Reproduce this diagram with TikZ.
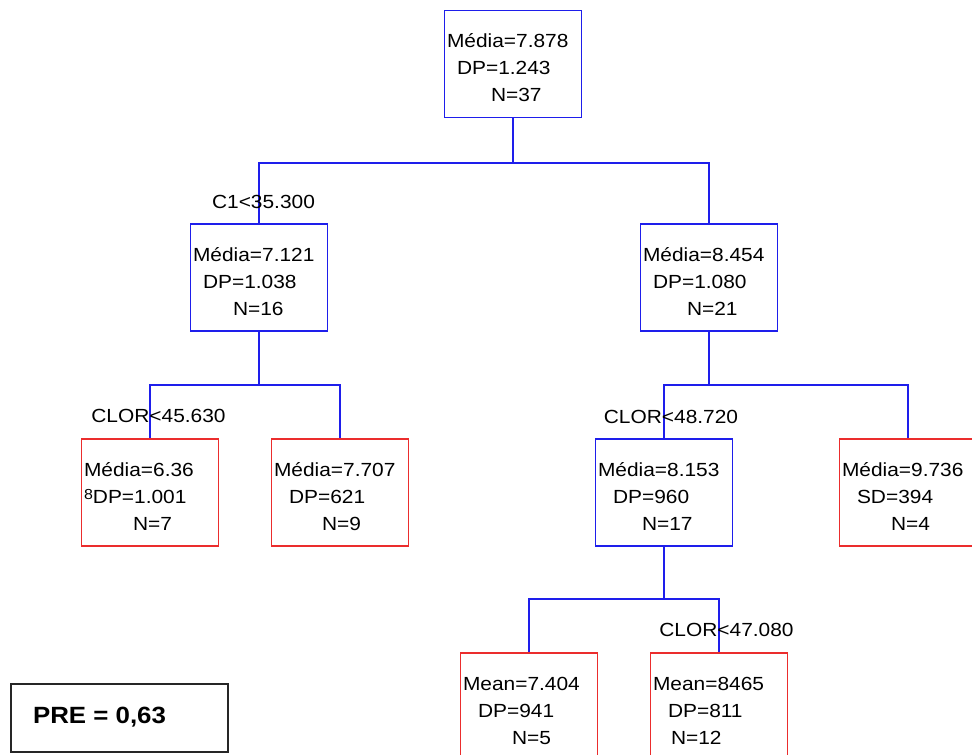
\documentclass[tikz,border=0pt]{standalone}
\usepackage{fontspec}
\setmainfont{Liberation Sans}[FakeStretch=1.1]
\usepackage{tikz}

\definecolor{treeblue}{RGB}{30,30,235}
\definecolor{leafred}{RGB}{235,45,45}

\tikzset{
  splitbox/.style={draw=treeblue, line width=1.3pt, minimum width=137pt, minimum height=107pt, inner sep=0pt},
  leafbox/.style={splitbox, draw=leafred},
  statstext/.style={anchor=west, align=left, inner sep=0pt, font=\fontsize{19}{27}\selectfont},
  cutlabel/.style={inner sep=0pt, font=\fontsize{19}{23}\selectfont},
  edge/.style={treeblue, line width=1.3pt}
}

\begin{document}
\begin{tikzpicture}[x=1pt,y=-1pt]
        \useasboundingbox (0,0) rectangle (972,755);
        \clip (0,0) rectangle (972,755);

        % Raiz
        \node[splitbox] (root) at (513,64) {};
        \node[statstext] (rootT) at ([xshift=3pt,yshift=-4pt]root.west) {Média=7.878\\\hspace*{10pt}DP=1.243\\\hspace*{44pt}N=37};

        % Nivel 1
        \node[splitbox] (c1) at (259,277.5) {};
        \node[statstext] (c1T) at ([xshift=3pt,yshift=-4pt]c1.west) {Média=7.121\\\hspace*{10pt}DP=1.038\\\hspace*{40pt}N=16};
        \node[splitbox] (c2) at (709,277.5) {};
        \node[statstext] (c2T) at ([xshift=3pt,yshift=-4pt]c2.west) {Média=8.454\\\hspace*{10pt}DP=1.080\\\hspace*{44pt}N=21};

        % Nivel 2
        \node[leafbox] (lfA) at (150,492.5) {};
        \node[statstext] (lfAT) at ([xshift=3pt,yshift=-4pt]lfA.west) {Média=6.36\\\raisebox{4pt}{\fontsize{14.5}{14.5}\selectfont 8}DP=1.001\\\hspace*{49pt}N=7};
        \node[leafbox] (lfB) at (340,492.5) {};
        \node[statstext] (lfBT) at ([xshift=3pt,yshift=-4pt]lfB.west) {Média=7.707\\\hspace*{15pt}DP=621\\\hspace*{48pt}N=9};
        \node[splitbox] (n3) at (664,492.5) {};
        \node[statstext] (n3T) at ([xshift=3pt,yshift=-4pt]n3.west) {Média=8.153\\\hspace*{15pt}DP=960\\\hspace*{44pt}N=17};
        \node[leafbox] (lfC) at (908,492.5) {};
        \node[statstext] (lfCT) at ([xshift=3pt,yshift=-4pt]lfC.west) {Média=9.736\\\hspace*{15pt}SD=394\\\hspace*{49pt}N=4};

        % Nivel 3
        \node[leafbox] (lfD) at (529,706.5) {};
        \node[statstext] (lfDT) at ([xshift=3pt,yshift=-4pt]lfD.west) {Mean=7.404\\\hspace*{15pt}DP=941\\\hspace*{49pt}N=5};
        \node[leafbox] (lfE) at (719,706.5) {};
        \node[statstext] (lfET) at ([xshift=3pt,yshift=-4pt]lfE.west) {Mean=8465\\\hspace*{15pt}DP=811\\\hspace*{18pt}N=12};

        % Ligacoes
        \coordinate (j0) at (513,163);
        \coordinate (j1) at (259,385);
        \coordinate (j2) at (709,385);
        \coordinate (j3) at (664,599);
        \draw[edge] (root.south) -- (j0) -| (c1.north);
        \draw[edge] (j0) -| (c2.north);
        \draw[edge] (c1.south) -- (j1) -| (lfA.north);
        \draw[edge] (j1) -| (lfB.north);
        \draw[edge] (c2.south) -- (j2) -| (n3.north);
        \draw[edge] (j2) -| (lfC.north);
        \draw[edge] (n3.south) -- (j3) -| (lfD.north);
        \draw[edge] (j3) -| (lfE.north);

        % Cortes
        \node[cutlabel] (cut1) at (263.5,202) {C1<35.300};
        \node[cutlabel] (cut2) at (158.5,416) {CLOR<45.630};
        \node[cutlabel] (cut3) at (671,417) {CLOR<48.720};
        \node[cutlabel] (cut4) at (726.5,630) {CLOR<47.080};

        % PRE
        \node[draw=black!85, line width=2pt, minimum width=217pt, minimum height=68pt, font=\bfseries\fontsize{23.5}{28}\selectfont] (pre) at (119.5,718) {\raisebox{6pt}{PRE = 0,63}\hspace*{40pt}};
\end{tikzpicture}
\end{document}
